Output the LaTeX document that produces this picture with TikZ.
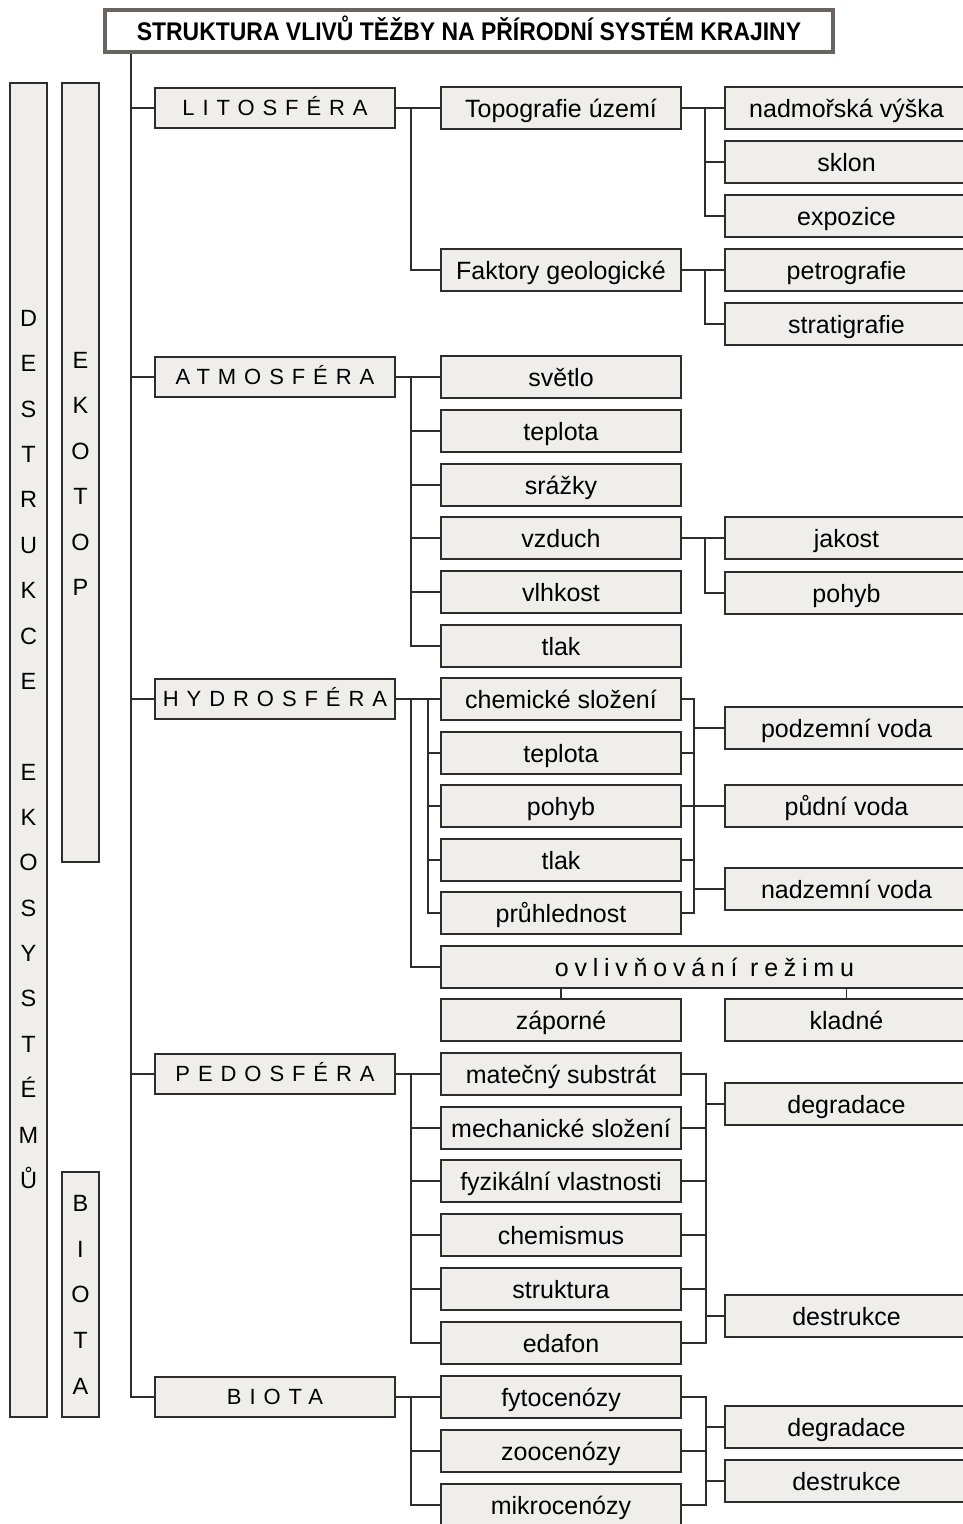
\documentclass[tikz,border=0pt]{standalone}
\usepackage{fontspec}
\setmainfont{Liberation Sans}
\newfontfamily\spacedfont[LetterSpace=36]{Liberation Sans}
\newfontfamily\ovlfont[LetterSpace=23]{Liberation Sans}
\newfontfamily\titlefont[FakeStretch=0.9]{Liberation Sans}
\definecolor{boxfill}{RGB}{240,238,234}
\definecolor{linec}{RGB}{45,45,45}
\definecolor{titlec}{RGB}{105,100,95}
\begin{document}
\begin{tikzpicture}[x=1pt,y=-1pt,
 conn/.style={draw=linec,line width=1.7pt},
 box/.style={draw=linec,fill=boxfill,line width=1.7pt,inner sep=0pt,minimum height=42pt,text height=18pt,text depth=0pt,font=\fontsize{25}{30}\selectfont},
 lone/.style={box,minimum width=240pt,minimum height=40pt,text height=15.5pt,font=\fontsize{22}{26}\spacedfont},
 ltwo/.style={box,minimum width=240pt},
 lthree/.style={box,minimum width=243pt},
 bar/.style={draw=linec,fill=boxfill,line width=1.7pt,inner sep=0pt,minimum width=37pt},
 barletter/.style={anchor=base,inner sep=0pt,font=\fontsize{23.5}{28}\selectfont},
]
\fill[white] (0,0) rectangle (963,1524);
\useasboundingbox (0,0) rectangle (963,1524);

% junction coordinates
\coordinate (sp) at (131,0);
\coordinate (ja) at (411,0);
\coordinate (jb) at (428,0);
\coordinate (jc) at (705,0);
\coordinate (jd) at (694,0);
\coordinate (je) at (706,0);

% title
\node[draw=titlec,line width=3.5pt,fill=white,minimum width=728pt,minimum height=42pt,inner sep=0pt,text height=18pt,text depth=0pt,font=\fontsize{25.5}{30}\titlefont\bfseries] (title) at (469,31) {STRUKTURA VLIVŮ TĚŽBY NA PŘÍRODNÍ SYSTÉM KRAJINY};

% left bars
\node[bar,minimum height=1334pt] (destbar) at (28.5,750) {};
\node[bar,minimum height=779pt] (ekobar) at (80.5,472.5) {};
\node[bar,minimum height=245pt] (biobar) at (80.5,1294.5) {};
\foreach \L [count=\i from 0] in {D,E,S,T,R,U,K,C,E}
  \node[barletter] (dA\i) at (28.5,{318+45.37*\i+8.4}) {\L};
\foreach \L [count=\i from 10] in {E,K,O,S,Y,S,T,É,M,Ů}
  \node[barletter] (dB\i) at (28.5,{318+45.37*\i+8.4}) {\L};
\foreach \L [count=\i from 0] in {E,K,O,T,O,P}
  \node[barletter] (eA\i) at (80.5,{360+45.4*\i+8.4}) {\L};
\foreach \L [count=\i from 0] in {B,I,O,T,A}
  \node[barletter] (bA\i) at (80.5,{1203+45.7*\i+8.4}) {\L};

% level 1
\node[lone] (lito) at (275,108) {LITOSFÉRA};
\node[lone] (atmo) at (275,377) {ATMOSFÉRA};
\node[lone] (hydro) at (275,699) {HYDROSFÉRA};
\node[lone] (pedo) at (275,1074) {PEDOSFÉRA};
\node[lone] (biota) at (275,1397) {BIOTA};

% level 2
\node[ltwo] (topo) at (561,108) {Topografie území};
\node[ltwo] (fakt) at (561,270) {Faktory geologické};
\node[ltwo] (svetlo) at (561,377) {světlo};
\node[ltwo] (teplA) at (561,431) {teplota};
\node[ltwo] (srazky) at (561,485) {srážky};
\node[ltwo] (vzduch) at (561,538) {vzduch};
\node[ltwo] (vlhkost) at (561,592) {vlhkost};
\node[ltwo] (tlakA) at (561,646) {tlak};
\node[ltwo] (chem) at (561,699) {chemické složení};
\node[ltwo] (teplH) at (561,753) {teplota};
\node[ltwo] (pohybH) at (561,806) {pohyb};
\node[ltwo] (tlakH) at (561,860) {tlak};
\node[ltwo] (pruh) at (561,913) {průhlednost};
\node[box,minimum width=527pt,font=\fontsize{25}{30}\ovlfont] (ovl) at (704.5,967) {ovlivňování režimu};
\node[ltwo] (zap) at (561,1020) {záporné};
\node[ltwo] (mat) at (561,1074) {matečný substrát};
\node[ltwo] (mech) at (561,1128) {mechanické složení};
\node[ltwo] (fyz) at (561,1181) {fyzikální vlastnosti};
\node[ltwo] (chemis) at (561,1235) {chemismus};
\node[ltwo] (strukt) at (561,1289) {struktura};
\node[ltwo] (edafon) at (561,1343) {edafon};
\node[ltwo] (fyto) at (561,1397) {fytocenózy};
\node[ltwo] (zoo) at (561,1451) {zoocenózy};
\node[ltwo] (mikro) at (561,1505) {mikrocenózy};

% level 3
\node[lthree] (nadm) at (846.5,108) {nadmořská výška};
\node[lthree] (sklon) at (846.5,162) {sklon};
\node[lthree] (expo) at (846.5,216) {expozice};
\node[lthree] (petro) at (846.5,270) {petrografie};
\node[lthree] (strati) at (846.5,324) {stratigrafie};
\node[lthree] (jakost) at (846.5,538) {jakost};
\node[lthree] (pohybA) at (846.5,593) {pohyb};
\node[lthree] (podz) at (846.5,728) {podzemní voda};
\node[lthree] (pudni) at (846.5,806) {půdní voda};
\node[lthree] (nadz) at (846.5,889) {nadzemní voda};
\node[lthree] (klad) at (846.5,1020) {kladné};
\node[lthree] (degr) at (846.5,1104) {degradace};
\node[lthree] (destr) at (846.5,1316) {destrukce};
\node[lthree] (degrB) at (846.5,1427) {degradace};
\node[lthree] (destrB) at (846.5,1481) {destrukce};

% spine
\draw[conn] (title.south -| sp) |- (biota.west);
\foreach \n in {lito,atmo,hydro,pedo}
  \draw[conn] (\n.west -| sp) -- (\n.west);

% litosfera
\draw[conn] (lito.east) -- (topo.west);
\draw[conn] (lito.east -| ja) |- (fakt.west);
\draw[conn] (topo.east) -- (nadm.west);
\draw[conn] (topo.east -| jc) |- (expo.west);
\draw[conn] (sklon.west -| jc) -- (sklon.west);
\draw[conn] (fakt.east) -- (petro.west);
\draw[conn] (fakt.east -| jc) |- (strati.west);

% atmosfera
\draw[conn] (atmo.east) -- (svetlo.west);
\draw[conn] (atmo.east -| ja) |- (tlakA.west);
\foreach \n in {teplA,srazky,vzduch,vlhkost}
  \draw[conn] (\n.west -| ja) -- (\n.west);
\draw[conn] (vzduch.east) -- (jakost.west);
\draw[conn] (vzduch.east -| jc) |- (pohybA.west);

% hydrosfera
\draw[conn] (hydro.east) -- (chem.west);
\draw[conn] (hydro.east -| ja) |- (ovl.west);
\draw[conn] (hydro.east -| jb) |- (pruh.west);
\foreach \n in {teplH,pohybH,tlakH}
  \draw[conn] (\n.west -| jb) -- (\n.west);
\draw[conn] (chem.east) -| (jd |- pruh.east) -- (pruh.east);
\foreach \n in {teplH,tlakH}
  \draw[conn] (\n.east) -- (\n.east -| jd);
\draw[conn] (pohybH.east) -- (pudni.west);
\draw[conn] (podz.west -| jd) -- (podz.west);
\draw[conn] (nadz.west -| jd) -- (nadz.west);
\draw[conn] (zap.north) -- (zap.north |- ovl.south);
\draw[conn] (klad.north) -- (klad.north |- ovl.south);

% pedosfera
\draw[conn] (pedo.east) -- (mat.west);
\draw[conn] (pedo.east -| ja) |- (edafon.west);
\foreach \n in {mech,fyz,chemis,strukt}
  \draw[conn] (\n.west -| ja) -- (\n.west);
\draw[conn] (mat.east) -| (je |- edafon.east) -- (edafon.east);
\foreach \n in {mech,fyz,chemis,strukt}
  \draw[conn] (\n.east) -- (\n.east -| je);
\draw[conn] (degr.west -| je) -- (degr.west);
\draw[conn] (destr.west -| je) -- (destr.west);

% biota
\draw[conn] (biota.east) -- (fyto.west);
\draw[conn] (biota.east -| ja) |- (mikro.west);
\draw[conn] (zoo.west -| ja) -- (zoo.west);
\draw[conn] (fyto.east) -| (je |- mikro.east) -- (mikro.east);
\draw[conn] (zoo.east) -- (zoo.east -| je);
\draw[conn] (degrB.west -| je) -- (degrB.west);
\draw[conn] (destrB.west -| je) -- (destrB.west);
\end{tikzpicture}
\end{document}
